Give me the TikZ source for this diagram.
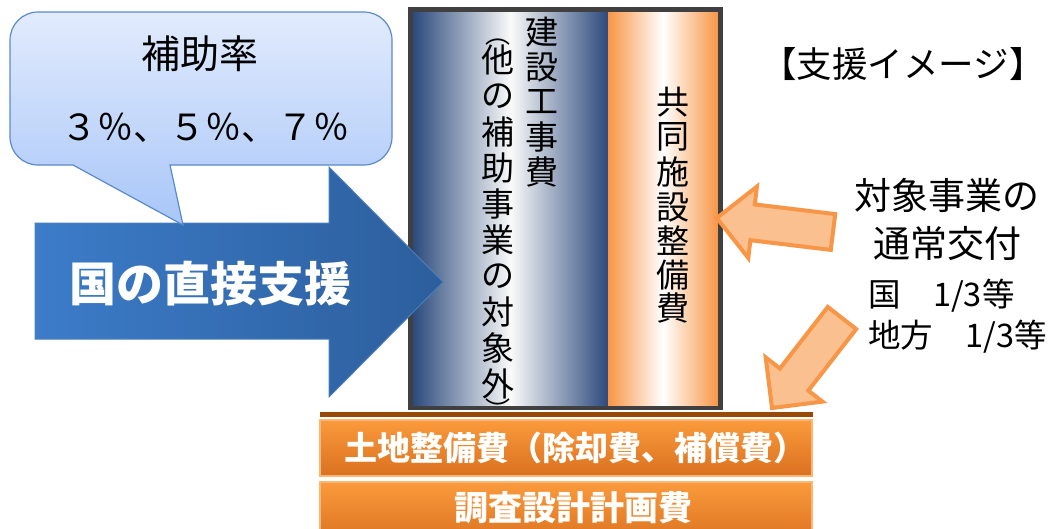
\documentclass[tikz,border=0pt]{standalone}
\usepackage{fontspec}
\setmainfont{Noto Sans CJK JP}
\definecolor{navy}{HTML}{2C4A7C}
\definecolor{orng}{HTML}{F79646}
\definecolor{lorng}{HTML}{FAC090}
\definecolor{brownline}{HTML}{984807}
\definecolor{blueA}{HTML}{3C7CC9}
\definecolor{blueB}{HTML}{2C5E9C}
\definecolor{blueEdge}{HTML}{4A7EBB}
\definecolor{callT}{HTML}{E2EBFD}
\definecolor{callB}{HTML}{A8C6F8}
\definecolor{callD}{HTML}{5A8ACB}
\definecolor{barT}{HTML}{FB9A3C}
\definecolor{barB}{HTML}{D9711F}
\definecolor{barEdge}{HTML}{FBB574}
\definecolor{boxEdge}{HTML}{404040}
\begin{document}
\begin{tikzpicture}[x=1pt,y=1pt,
  vt/.style={inner sep=0pt,font=\fontsize{33}{33}\selectfont},
  vp/.style={inner sep=0pt,rotate=-90,font=\fontsize{25}{25}\selectfont},
  orarrow/.style={fill=lorng,draw=orng,line width=4pt,line join=miter},
  barbox/.style={top color=barT,bottom color=barB,draw=barEdge,line width=1.5pt},
  bartext/.style={text=white,font=\fontsize{33}{33}\selectfont\bfseries,inner sep=0pt},
  plain/.style={inner sep=0pt}]
\useasboundingbox (0,0) rectangle (1055,-528);
\clip (0,0) rectangle (1055,-528);
% central column
\shade[left color=navy,right color=navy,middle color=white!96!gray] (413,-10) rectangle (608,-409);
\shade[left color=orng,right color=orng,middle color=white] (608,-10) rectangle (718,-409);
\draw[boxEdge,line width=4.5pt] (410.5,-9.5) rectangle (720.5,-408);
% vertical texts
\foreach \c/\y [count=\i] in {建/32,設/67,工/102,事/137,費/172}
  \node[vt] (colA\i) at (542,-\y) {\c};
\foreach \c/\y [count=\i] in {他/60,の/96,補/132,助/168,事/204,業/240,の/276,対/312,象/348,外/384}
  \node[vt] (colB\i) at (498,-\y) {\c};
\node[vp] (lparen) at (498,-34) {（};
\node[vp] (rparen) at (498,-410) {）};
\foreach \c/\y [count=\i] in {共/102,同/137,施/172,設/207,整/241,備/275,費/308}
  \node[vt] (colC\i) at (673,-\y) {\c};
% orange arrows
\draw[orarrow] (830.8,-249.9) -- (750.4,-240.2) -- (748.3,-258.0) -- (716.8,-218) -- (756.9,-186.6) -- (754.8,-204.4) -- (835.2,-214.1) -- cycle;
\draw[orarrow] (856.2,-329.1) -- (808.3,-390.6) -- (822.5,-401.6) -- (772,-408) -- (765.7,-357.4) -- (779.9,-368.5) -- (827.8,-306.9) -- cycle;
% bottom bars
\fill[brownline] (320,-411.5) rectangle (813,-416.5);
\draw[barbox] (320,-420) rectangle (812,-476);
\draw[barbox] (320,-482) rectangle (812,-545);
\node[bartext] (land) at (575,-448) {土地整備費（除却費、補償費）};
\node[bartext,font=\fontsize{34}{34}\selectfont\bfseries] (survey) at (573,-508) {調査設計計画費};
% big blue arrow
\draw[left color=blueA,right color=blueB,draw=blueEdge,line width=1pt]
  (35,-223) -- (329,-223) -- (329,-167) -- (443,-282) -- (329,-397) -- (329,-339) -- (35,-339) -- cycle;
\node[plain,text=white,font=\fontsize{47}{47}\selectfont\bfseries] (direct) at (210,-284) {国の直接支援};
% callout
\draw[top color=callT,bottom color=callB,draw=callD,line width=1.2pt]
  (73,-165) [rounded corners=28pt] -- (10,-165) -- (10,-12) -- (392,-12) -- (392,-165) -- (300,-165)
  [sharp corners] -- (170,-165) -- (183,-225) -- cycle;
\node[plain,font=\fontsize{39}{39}\selectfont] (rate) at (200,-54) {補助率};
\node[plain,font=\fontsize{36}{36}\selectfont] (pct) at (205,-128) {３％、５％、７％};
% right texts
\node[plain,font=\fontsize{35.5}{35.5}\selectfont] (image) at (903,-64) {【支援イメージ】};
\node[plain,align=center,font=\fontsize{37}{48}\selectfont] (target) at (947,-219) {対象事業の\\通常交付};
\node[plain,anchor=west,font=\fontsize{32.5}{32.5}\selectfont] (kuni) at (868,-296) {国　1/3等};
\node[plain,anchor=west,font=\fontsize{32.5}{32.5}\selectfont] (chiho) at (868,-337) {地方　1/3等};
\end{tikzpicture}
\end{document}
